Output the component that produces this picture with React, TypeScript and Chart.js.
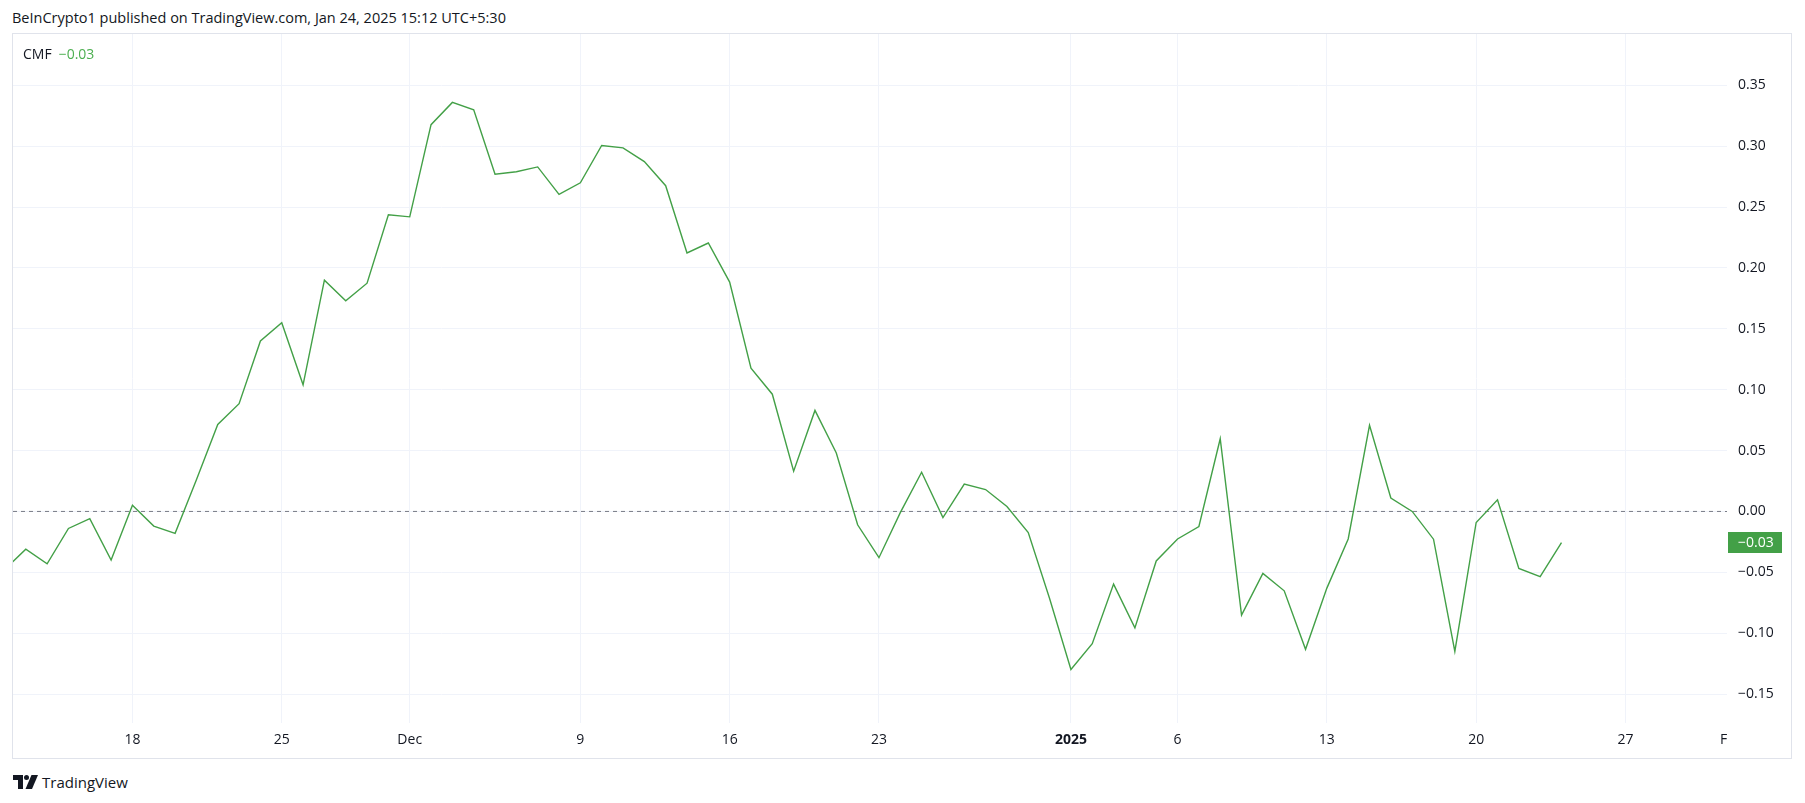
import React, { useEffect, useRef } from "react";
import { Chart, registerables } from "chart.js";

Chart.register(...registerables);

// Daily CMF values, one per day starting 2024-11-12 (index 0) to 2025-01-24
const cmfValues: number[] = [
  -0.048, -0.031, -0.043, -0.014, -0.006, -0.040, 0.005, -0.012, -0.018, 0.026,
  0.0715, 0.0885, 0.140, 0.155, 0.104, 0.190, 0.173, 0.1875, 0.2437,
  0.242, 0.3177, 0.336, 0.330, 0.277, 0.279, 0.283, 0.2605, 0.270, 0.3006,
  0.2987, 0.2874, 0.2676, 0.2123, 0.2205, 0.1884, 0.1177, 0.0963, 0.033, 0.083,
  0.048, -0.011, -0.038, -0.001, 0.0322, -0.005, 0.0225, 0.018, 0.004, -0.0173,
  -0.0715, -0.1298, -0.1086, -0.0597, -0.0957, -0.0407, -0.0226, -0.0124, 0.0597,
  -0.0852, -0.0509, -0.0652, -0.1133, -0.063, -0.0226, 0.0707, 0.011, 0.0,
  -0.0228, -0.115, -0.0091, 0.0096, -0.0468, -0.0536, -0.0256,
];

// x tick positions (day index from 2024-11-12) and their labels
const xTickPositions: number[] = [6, 13, 19, 27, 34, 41, 50, 55, 62, 69, 76, 80.6];
const xTickLabels: string[] = ["18", "25", "Dec", "9", "16", "23", "2025", "6", "13", "20", "27", "F"];
const boldTickLabels: string[] = ["2025"];
const noGridLabels: string[] = ["F"];

const yTickValues: number[] = [-0.15, -0.1, -0.05, 0, 0.05, 0.1, 0.15, 0.2, 0.25, 0.3, 0.35];

const X_MIN = 0.4;
const X_MAX = 80.76;
const Y_MIN = -0.1738;
const Y_MAX = 0.3922;

const LINE_COLOR = "#43a047";
const TEXT_COLOR = "#131722";
const GRID_COLOR = "#f0f3fa";
const FONT = "'Open Sans', 'DejaVu Sans', sans-serif";

const fmt = (v: number) => (v < 0 ? "\u2212" + Math.abs(v).toFixed(2) : v.toFixed(2));

const lastValueBox = {
  id: "lastValueBox",
  afterDraw(chart: any) {
    const { ctx, chartArea, scales } = chart;
    const last = cmfValues[cmfValues.length - 1];
    const y = scales.y.getPixelForValue(last);
    const x0 = chartArea.right + 1;
    const h = 21;
    ctx.save();
    ctx.fillStyle = LINE_COLOR;
    ctx.fillRect(x0, Math.round(y - h / 2), 54, h);
    ctx.fillStyle = "#ffffff";
    ctx.font = `14px ${FONT}`;
    ctx.textBaseline = "middle";
    ctx.textAlign = "left";
    ctx.fillText(fmt(Math.round(last * 100) / 100), x0 + 10, y + 0.5);
    ctx.restore();
  },
};

function ChartCanvas() {
  const ref = useRef<HTMLCanvasElement | null>(null);
  useEffect(() => {
    if (!ref.current) return;
    const chart = new Chart(ref.current, {
      type: "line",
      data: {
        datasets: [
          {
            data: [
              { x: X_MIN, y: 0 },
              { x: X_MAX, y: 0 },
            ],
            borderColor: "#787b86",
            borderWidth: 1,
            borderDash: [4, 4],
            pointRadius: 0,
            order: 2,
          },
          {
            data: cmfValues.map((v, i) => ({ x: i, y: v })),
            borderColor: LINE_COLOR,
            borderWidth: 1.4,
            pointRadius: 0,
            tension: 0,
            order: 1,
          },
        ],
      },
      options: {
        animation: false,
        responsive: false,
        maintainAspectRatio: false,
        layout: { padding: 0 },
        plugins: { legend: { display: false }, tooltip: { enabled: false } },
        scales: {
          x: {
            type: "linear",
            min: X_MIN,
            max: X_MAX,
            afterBuildTicks: (scale: any) => {
              scale.ticks = xTickPositions.map((v) => ({ value: v }));
            },
            afterFit: (scale: any) => {
              scale.height = 35;
              scale.paddingLeft = 0;
              scale.paddingRight = 0;
            },
            ticks: {
              autoSkip: false,
              maxRotation: 0,
              padding: 9,
              color: TEXT_COLOR,
              callback: (_v: any, i: number) => xTickLabels[i],
              font: (ctx: any) => {
                const lbl = xTickLabels[ctx.index];
                return {
                  family: FONT,
                  size: 14,
                  weight: boldTickLabels.includes(lbl) ? "bold" : "normal",
                };
              },
            },
            grid: {
              color: (ctx: any) =>
                noGridLabels.includes(xTickLabels[ctx.index]) ? "rgba(0,0,0,0)" : GRID_COLOR,
              drawTicks: false,
              lineWidth: 1,
            },
            border: { display: false },
          },
          y: {
            type: "linear",
            position: "right",
            min: Y_MIN,
            max: Y_MAX,
            afterBuildTicks: (scale: any) => {
              scale.ticks = yTickValues.map((v) => ({ value: v }));
            },
            afterFit: (scale: any) => {
              scale.width = 64;
              scale.paddingTop = 0;
              scale.paddingBottom = 0;
            },
            ticks: {
              crossAlign: "near",
              padding: 11,
              color: TEXT_COLOR,
              font: { family: FONT, size: 14 },
              callback: (v: any) => fmt(Number(v)),
            },
            grid: { color: GRID_COLOR, drawTicks: false, lineWidth: 1 },
            border: { display: false },
          },
        },
      },
      plugins: [lastValueBox],
    });
    return () => chart.destroy();
  }, []);
  return (
    <canvas
      ref={ref}
      width={1778}
      height={724}
      style={{ position: "absolute", left: 13, top: 34, width: 1778, height: 724 }}
    />
  );
}

function Logo() {
  return (
    <svg width="25" height="14" viewBox="0 0 25 14" style={{ position: "absolute", left: 13, top: 775 }}>
      <path d="M0 0 H10 V14 H5 V5 H0 Z" fill={TEXT_COLOR} />
      <circle cx="13.5" cy="2.5" r="2.5" fill={TEXT_COLOR} />
      <path d="M18.5 0 H25 L19 14 H12.5 Z" fill={TEXT_COLOR} />
    </svg>
  );
}

export default function App() {
  const last = cmfValues[cmfValues.length - 1];
  return (
    <div
      style={{
        position: "fixed",
        left: 0,
        top: 0,
        width: 1805,
        height: 803,
        background: "#ffffff",
        fontFamily: FONT,
        color: TEXT_COLOR,
        overflow: "hidden",
      }}
    >
      <div style={{ position: "absolute", left: 12, top: 8, fontSize: 14.5, lineHeight: "20px", whiteSpace: "nowrap" }}>
        BeInCrypto1 published on TradingView.com, Jan 24, 2025 15:12 UTC+5:30
      </div>
      <div
        style={{
          position: "absolute",
          left: 12,
          top: 33,
          width: 1780,
          height: 726,
          border: "1px solid #e0e3eb",
          boxSizing: "border-box",
        }}
      />
      <ChartCanvas />
      <div style={{ position: "absolute", left: 23, top: 44, fontSize: 14, lineHeight: "20px", whiteSpace: "nowrap" }}>
        <span>CMF</span>
        <span style={{ color: "#4caf50", marginLeft: 7 }}>{fmt(Math.round(last * 100) / 100)}</span>
      </div>
      <Logo />
      <div style={{ position: "absolute", left: 42, top: 772, fontSize: 15, lineHeight: "20px", whiteSpace: "nowrap" }}>
        TradingView
      </div>
    </div>
  );
}
